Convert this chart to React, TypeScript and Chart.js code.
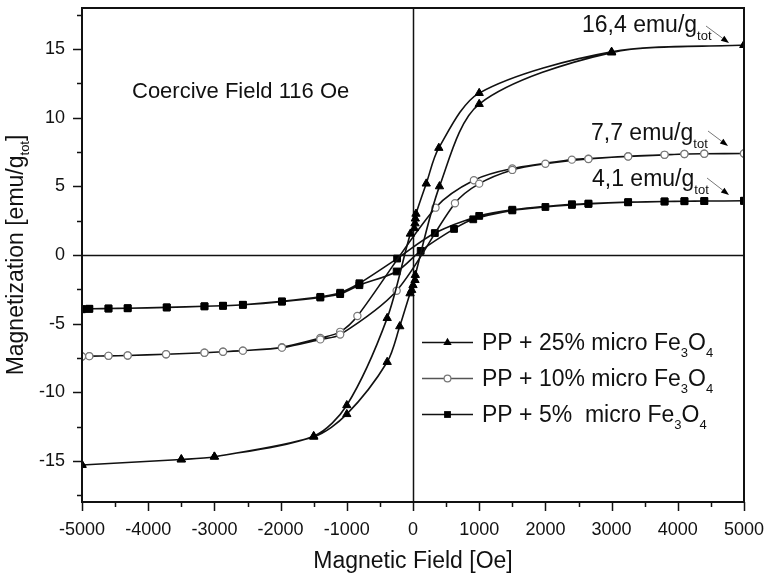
import React, { useEffect, useRef } from "react";
import { Chart, registerables } from "chart.js";

Chart.register(...registerables);

// ---------- axis ticks ----------
const X_TICKS = [-5000, -4000, -3000, -2000, -1000, 0, 1000, 2000, 3000, 4000, 5000];
const Y_TICKS = [-15, -10, -5, 0, 5, 10, 15];

// ---------- PP + 25% micro Fe3O4 (triangles) ----------
const S25_H_DOWN = [5000, 3000, 1000, 390, 200, 45, 35, 30, 20, -40, -390, -1000, -1500, -3000, -3500, -5000];
const S25_M_DOWN = [15.3, 14.8, 11.8, 7.8, 5.2, 3.0, 2.65, 2.3, 1.95, 1.55, -4.6, -10.95, -13.2, -14.7, -14.9, -15.3];
const S25_H_UP = [-5000, -3500, -3000, -1500, -1000, -390, -200, -45, -20, 0, 30, 35, 400, 1000, 3000, 5000];
const S25_M_UP = [-15.3, -14.9, -14.7, -13.25, -11.6, -7.8, -5.2, -2.8, -2.55, -2.2, -1.83, -1.46, 5.0, 11.0, 14.75, 15.3];

// ---------- PP + 10% micro Fe3O4 (open circles) ----------
const S10_H_DOWN = [5000, 4400, 4100, 3800, 3250, 2650, 2400, 1500, 920, 340, -840, -1100, -1400, -1980, -2570, -2870, -3150, -3730, -4310, -4600, -4890, -5000];
const S10_M_DOWN = [7.4, 7.38, 7.36, 7.3, 7.2, 7.02, 6.95, 6.3, 5.45, 3.45, -4.45, -5.6, -6.05, -6.72, -6.97, -7.05, -7.12, -7.23, -7.32, -7.35, -7.37, -7.4];
const S10_H_UP = [-5000, -4890, -4600, -4310, -3730, -3150, -2870, -2570, -1980, -1400, -1100, -247, 634, 1000, 1500, 2000, 2650, 3250, 3800, 4100, 4400, 5000];
const S10_M_UP = [-7.4, -7.37, -7.35, -7.32, -7.23, -7.12, -7.05, -6.97, -6.75, -6.15, -5.8, -2.6, 3.77, 5.2, 6.2, 6.65, 7.0, 7.18, 7.3, 7.36, 7.38, 7.4];

// ---------- PP + 5% micro Fe3O4 (squares) ----------
const S5_H_DOWN = [5000, 4400, 4100, 3800, 3250, 2650, 2400, 1500, 1000, 330, -240, -810, -1100, -1400, -1980, -2570, -2870, -3150, -3720, -4310, -4600, -4890, -5000];
const S5_M_DOWN = [3.95, 3.93, 3.92, 3.9, 3.85, 3.75, 3.7, 3.3, 2.85, 1.6, -0.26, -2.06, -2.75, -3.05, -3.38, -3.63, -3.7, -3.74, -3.82, -3.88, -3.9, -3.92, -3.95];
const S5_H_UP = [-5000, -4890, -4600, -4310, -3720, -3150, -2870, -2570, -1980, -1400, -1100, -810, -247, 116, 620, 910, 1500, 2000, 2400, 2650, 3250, 3800, 4100, 4400, 5000];
const S5_M_UP = [-3.95, -3.92, -3.9, -3.88, -3.82, -3.74, -3.7, -3.63, -3.4, -3.1, -2.85, -2.2, -1.2, 0.3, 1.9, 2.6, 3.25, 3.5, 3.65, 3.72, 3.84, 3.9, 3.92, 3.93, 3.95];

// ---------- texts ----------
const LEGEND_LABELS = ["PP + 25% micro Fe", "PP + 10% micro Fe", "PP + 5%  micro Fe"];
const SAT_LABELS = ["16,4 emu/g", "7,7 emu/g", "4,1 emu/g"];
const COERCIVE_TEXT = "Coercive Field 116 Oe";
const X_TITLE = "Magnetic Field [Oe]";

const FONT = "'Liberation Sans', Arial, Helvetica, sans-serif";

type Seg = { t: string; sub?: boolean };

function pts(h: number[], m: number[]) {
  return h.map((x, i) => ({ x, y: m[i] }));
}

function fontOf(size: number) {
  return `${size}px ${FONT}`;
}

function richWidth(ctx: CanvasRenderingContext2D, segs: Seg[], size: number, subSize: number) {
  let w = 0;
  for (const s of segs) {
    ctx.font = fontOf(s.sub ? subSize : size);
    w += ctx.measureText(s.t).width;
  }
  return w;
}

function drawRich(
  ctx: CanvasRenderingContext2D,
  segs: Seg[],
  x: number,
  y: number,
  size: number,
  subSize: number,
  drop: number
) {
  ctx.textBaseline = "alphabetic";
  ctx.textAlign = "left";
  for (const s of segs) {
    ctx.font = fontOf(s.sub ? subSize : size);
    ctx.fillText(s.t, x, s.sub ? y + drop : y);
    x += ctx.measureText(s.t).width;
  }
}

function drawMarker(ctx: CanvasRenderingContext2D, kind: string, x: number, y: number) {
  ctx.save();
  if (kind === "triangle") {
    const r = 4.8;
    ctx.beginPath();
    ctx.moveTo(x, y - r);
    ctx.lineTo(x + r * Math.sin((2 * Math.PI) / 3), y + r * 0.5);
    ctx.lineTo(x - r * Math.sin((2 * Math.PI) / 3), y + r * 0.5);
    ctx.closePath();
    ctx.fillStyle = "#000";
    ctx.fill();
  } else if (kind === "circle") {
    ctx.beginPath();
    ctx.arc(x, y, 3.4, 0, Math.PI * 2);
    ctx.fillStyle = "#fff";
    ctx.fill();
    ctx.strokeStyle = "#777";
    ctx.lineWidth = 1.2;
    ctx.stroke();
  } else {
    const s = 3.4;
    ctx.fillStyle = "#000";
    ctx.fillRect(x - s, y - s, 2 * s, 2 * s);
  }
  ctx.restore();
}

function drawArrow(ctx: CanvasRenderingContext2D, x1: number, y1: number, x2: number, y2: number) {
  ctx.save();
  const ang = Math.atan2(y2 - y1, x2 - x1);
  const head = 8;
  const bx = x2 - Math.cos(ang) * head;
  const by = y2 - Math.sin(ang) * head;
  ctx.strokeStyle = "#777";
  ctx.lineWidth = 1;
  ctx.beginPath();
  ctx.moveTo(x1, y1);
  ctx.lineTo(bx, by);
  ctx.stroke();
  ctx.fillStyle = "#000";
  ctx.beginPath();
  ctx.moveTo(x2, y2);
  ctx.lineTo(bx + Math.cos(ang + Math.PI / 2) * 3, by + Math.sin(ang + Math.PI / 2) * 3);
  ctx.lineTo(bx + Math.cos(ang - Math.PI / 2) * 3, by + Math.sin(ang - Math.PI / 2) * 3);
  ctx.closePath();
  ctx.fill();
  ctx.restore();
}

export default function App() {
  const ref = useRef<HTMLCanvasElement>(null);

  useEffect(() => {
    document.body.style.margin = "0";
    const canvas = ref.current;
    if (!canvas) return;

    const overlay = {
      id: "overlay",
      beforeDatasetsDraw(chart: any) {
        const ctx: CanvasRenderingContext2D = chart.ctx;
        const { left, right, top, bottom } = chart.chartArea;
        const xs = chart.scales.x;
        const ys = chart.scales.y;
        ctx.save();
        ctx.strokeStyle = "#111";
        ctx.lineWidth = 1.5;
        const x0 = Math.round(xs.getPixelForValue(0)) + 0.5;
        const y0 = Math.round(ys.getPixelForValue(0)) + 0.5;
        ctx.beginPath();
        ctx.moveTo(x0, top);
        ctx.lineTo(x0, bottom);
        ctx.moveTo(left, y0);
        ctx.lineTo(right, y0);
        ctx.stroke();
        ctx.restore();
      },
      afterDraw(chart: any) {
        const ctx: CanvasRenderingContext2D = chart.ctx;
        const { left, right, top, bottom } = chart.chartArea;
        const xs = chart.scales.x;
        const ys = chart.scales.y;
        ctx.save();
        // frame
        ctx.strokeStyle = "#111";
        ctx.lineWidth = 2;
        ctx.strokeRect(left, top, right - left, bottom - top);
        // bottom ticks
        ctx.lineWidth = 1.5;
        ctx.beginPath();
        for (let v = -5000; v <= 5000; v += 500) {
          const px = Math.round(xs.getPixelForValue(v)) + 0.5;
          const len = v % 1000 === 0 ? 9 : 5;
          ctx.moveTo(px, bottom);
          ctx.lineTo(px, bottom + len);
        }
        // left ticks
        for (let v = -17.5; v <= 17.5; v += 2.5) {
          const py = Math.round(ys.getPixelForValue(v)) + 0.5;
          const len = Math.abs(v % 5) < 1e-6 ? 9 : 5;
          ctx.moveTo(left, py);
          ctx.lineTo(left - len, py);
        }
        ctx.stroke();

        ctx.fillStyle = "#111";
        // x title
        ctx.font = fontOf(23);
        ctx.textAlign = "center";
        ctx.textBaseline = "middle";
        ctx.fillText(X_TITLE, (left + right) / 2, 562);

        // y title (rotated, with subscript)
        const ySegs: Seg[] = [{ t: "Magnetization [emu/g" }, { t: "tot", sub: true }, { t: "]" }];
        const yw = richWidth(ctx, ySegs, 23, 13);
        ctx.save();
        ctx.translate(23, (top + bottom) / 2);
        ctx.rotate(-Math.PI / 2);
        drawRich(ctx, ySegs, -yw / 2, 0, 23, 13, 6);
        ctx.restore();

        // coercive field text
        ctx.font = fontOf(22);
        ctx.textAlign = "left";
        ctx.textBaseline = "alphabetic";
        ctx.fillText(COERCIVE_TEXT, 132, 98);

        // saturation labels with arrows
        const satPos = [
          { x: 582, y: 32, ax1: 706, ay1: 26, ax2: 729, ay2: 43 },
          { x: 591, y: 140, ax1: 708, ay1: 131, ax2: 728, ay2: 146 },
          { x: 592, y: 186, ax1: 707, ay1: 178, ax2: 729, ay2: 195 },
        ];
        SAT_LABELS.forEach((lab, i) => {
          const p = satPos[i];
          drawRich(ctx, [{ t: lab }, { t: "tot", sub: true }], p.x, p.y, 23, 13, 8);
          drawArrow(ctx, p.ax1, p.ay1, p.ax2, p.ay2);
        });

        // legend
        const kinds = ["triangle", "circle", "rect"];
        const rowY = [342, 378, 414];
        LEGEND_LABELS.forEach((lab, i) => {
          const cy = rowY[i];
          ctx.strokeStyle = i === 1 ? "#555" : "#111";
          ctx.lineWidth = 1.5;
          ctx.beginPath();
          ctx.moveTo(422, cy + 0.5);
          ctx.lineTo(473, cy + 0.5);
          ctx.stroke();
          drawMarker(ctx, kinds[i], 447.5, cy + 0.5);
          ctx.fillStyle = "#111";
          drawRich(
            ctx,
            [{ t: lab }, { t: "3", sub: true }, { t: "O" }, { t: "4", sub: true }],
            482,
            cy + 8,
            23,
            13,
            7
          );
        });
        ctx.restore();
      },
    };

    const common = {
      borderColor: "#111",
      borderWidth: 1.6,
      tension: 0.3,
      fill: false,
    };

    const chart = new Chart(canvas, {
      type: "line",
      data: {
        datasets: [
          {
            ...common,
            label: "PP + 25% micro Fe3O4",
            data: [...pts(S25_H_DOWN, S25_M_DOWN), ...pts(S25_H_UP, S25_M_UP)],
            pointStyle: "triangle",
            pointRadius: 4.8,
            pointBackgroundColor: "#000",
            pointBorderColor: "#000",
            pointBorderWidth: 1,
          },
          {
            ...common,
            label: "PP + 10% micro Fe3O4",
            data: [...pts(S10_H_DOWN, S10_M_DOWN), ...pts(S10_H_UP, S10_M_UP)],
            pointStyle: "circle",
            pointRadius: 3.6,
            pointBackgroundColor: "#fff",
            pointBorderColor: "#777",
            pointBorderWidth: 1.2,
          },
          {
            ...common,
            label: "PP + 5% micro Fe3O4",
            data: [...pts(S5_H_DOWN, S5_M_DOWN), ...pts(S5_H_UP, S5_M_UP)],
            pointStyle: "rect",
            pointRadius: 4.8,
            pointBackgroundColor: "#000",
            pointBorderColor: "#000",
            pointBorderWidth: 1,
          },
        ],
      },
      options: {
        animation: false,
        responsive: false,
        devicePixelRatio: 1,
        layout: { padding: { top: 8, right: 23, left: 0, bottom: 0 } },
        plugins: {
          legend: { display: false },
          tooltip: { enabled: false },
        },
        scales: {
          x: {
            type: "linear",
            min: -5000,
            max: 5000,
            afterBuildTicks: (s: any) => {
              s.ticks = X_TICKS.map((v) => ({ value: v }));
            },
            afterFit: (s: any) => {
              s.height = 75;
              s.paddingLeft = 0;
              s.paddingRight = 0;
            },
            grid: { display: false, drawTicks: false, tickLength: 0 },
            border: { display: false },
            ticks: {
              font: { family: FONT, size: 18 },
              color: "#111",
              padding: 17,
              maxRotation: 0,
              autoSkip: false,
              callback: (v: any) => String(v),
            },
          },
          y: {
            type: "linear",
            min: -18,
            max: 18,
            afterBuildTicks: (s: any) => {
              s.ticks = Y_TICKS.map((v) => ({ value: v }));
            },
            afterFit: (s: any) => {
              s.width = 82;
              s.paddingTop = 0;
              s.paddingBottom = 0;
            },
            grid: { display: false, drawTicks: false, tickLength: 0 },
            border: { display: false },
            ticks: {
              font: { family: FONT, size: 18 },
              color: "#111",
              padding: 17,
              autoSkip: false,
              callback: (v: any) => String(v),
            },
          },
        },
      } as any,
      plugins: [overlay],
    });

    return () => chart.destroy();
  }, []);

  return <canvas ref={ref} width={767} height={577} style={{ display: "block" }} />;
}
